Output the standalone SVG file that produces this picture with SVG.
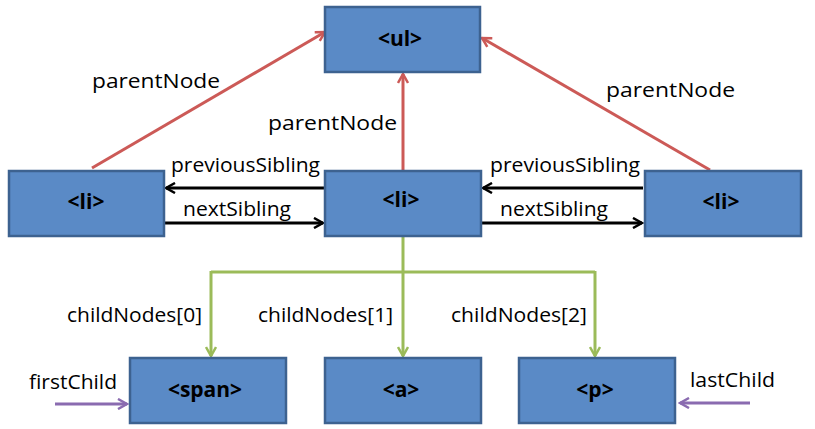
<svg xmlns="http://www.w3.org/2000/svg" width="815" height="429" viewBox="0 0 815 429">
<style>
.node rect{fill:#5A8AC6;stroke:#3D6290;stroke-width:2.5}
.node text{font-family:"Open Sans","Liberation Sans",sans-serif;font-weight:bold;font-size:21px;fill:#000;text-anchor:middle}
.lbl{font-family:"Open Sans","Liberation Sans",sans-serif;font-size:19.5px;fill:#000}
.red{stroke:#CC5A57;stroke-width:3;fill:none}
.blk{stroke:#000;stroke-width:3;fill:none}
.grn{stroke:#9BBB59;stroke-width:3;fill:none}
.pur{stroke:#8A6BB0;stroke-width:3;fill:none}
</style>
<defs>
<marker id="ar" viewBox="0 0 12 12" refX="10" refY="6" markerWidth="12" markerHeight="12" markerUnits="userSpaceOnUse" orient="auto"><path d="M1,1 L10,6 L1,11" fill="none" stroke="#CC5A57" stroke-width="2.5"/></marker>
<marker id="ab" viewBox="0 0 12 12" refX="10" refY="6" markerWidth="12" markerHeight="12" markerUnits="userSpaceOnUse" orient="auto"><path d="M1,1 L10,6 L1,11" fill="none" stroke="#000" stroke-width="2.5"/></marker>
<marker id="ag" viewBox="0 0 12 12" refX="10" refY="6" markerWidth="12" markerHeight="12" markerUnits="userSpaceOnUse" orient="auto"><path d="M1,1 L10,6 L1,11" fill="none" stroke="#9BBB59" stroke-width="2.5"/></marker>
<marker id="ap" viewBox="0 0 12 12" refX="10" refY="6" markerWidth="12" markerHeight="12" markerUnits="userSpaceOnUse" orient="auto"><path d="M1,1 L10,6 L1,11" fill="none" stroke="#8A6BB0" stroke-width="2.5"/></marker>
</defs>
<g id="connectors">
<line class="red" x1="92" y1="168" x2="325" y2="32" marker-end="url(#ar)"/>
<line class="red" x1="403" y1="170" x2="403" y2="74" marker-end="url(#ar)"/>
<line class="red" x1="710" y1="170" x2="482" y2="38" marker-end="url(#ar)"/>
<line class="blk" x1="325" y1="188" x2="166" y2="188" marker-end="url(#ab)"/>
<line class="blk" x1="165" y1="223" x2="323" y2="223" marker-end="url(#ab)"/>
<line class="blk" x1="643" y1="188" x2="483" y2="188" marker-end="url(#ab)"/>
<line class="blk" x1="482" y1="223" x2="642" y2="223" marker-end="url(#ab)"/>
<polyline class="grn" points="403,236 403,272"/>
<polyline class="grn" points="211,272 595,272"/>
<line class="grn" x1="211" y1="271" x2="211" y2="356" marker-end="url(#ag)"/>
<line class="grn" x1="403" y1="271" x2="403" y2="356" marker-end="url(#ag)"/>
<line class="grn" x1="595" y1="271" x2="595" y2="356" marker-end="url(#ag)"/>
<line class="pur" x1="55" y1="404" x2="127" y2="404" marker-end="url(#ap)"/>
<line class="pur" x1="750" y1="403" x2="680" y2="403" marker-end="url(#ap)"/>
</g>
<g id="labels">
<text class="lbl" x="92" y="88" textLength="128" lengthAdjust="spacingAndGlyphs">parentNode</text>
<text class="lbl" x="268" y="130" textLength="129" lengthAdjust="spacingAndGlyphs">parentNode</text>
<text class="lbl" x="606" y="97" textLength="129" lengthAdjust="spacingAndGlyphs">parentNode</text>
<text class="lbl" x="171" y="172" textLength="149" lengthAdjust="spacingAndGlyphs">previousSibling</text>
<text class="lbl" x="183" y="216" textLength="108" lengthAdjust="spacingAndGlyphs">nextSibling</text>
<text class="lbl" x="490" y="172" textLength="150" lengthAdjust="spacingAndGlyphs">previousSibling</text>
<text class="lbl" x="500" y="216" textLength="108" lengthAdjust="spacingAndGlyphs">nextSibling</text>
<text class="lbl" x="67" y="322" textLength="135" lengthAdjust="spacingAndGlyphs">childNodes[0]</text>
<text class="lbl" x="258" y="322" textLength="135" lengthAdjust="spacingAndGlyphs">childNodes[1]</text>
<text class="lbl" x="451" y="322" textLength="136" lengthAdjust="spacingAndGlyphs">childNodes[2]</text>
<text class="lbl" x="29" y="389" textLength="88" lengthAdjust="spacingAndGlyphs">firstChild</text>
<text class="lbl" x="690" y="387" textLength="85" lengthAdjust="spacingAndGlyphs">lastChild</text>
</g>
<g id="ul" class="node"><rect x="325" y="7" width="155" height="65"/><text x="400" y="46">&lt;ul&gt;</text></g>
<g id="li1" class="node"><rect x="9" y="171" width="155" height="65"/><text x="86" y="209">&lt;li&gt;</text></g>
<g id="li2" class="node"><rect x="325" y="171" width="156" height="65"/><text x="401" y="207">&lt;li&gt;</text></g>
<g id="li3" class="node"><rect x="645" y="171" width="156" height="65"/><text x="721" y="209">&lt;li&gt;</text></g>
<g id="span" class="node"><rect x="130" y="358" width="156" height="65"/><text x="205" y="397">&lt;span&gt;</text></g>
<g id="a" class="node"><rect x="325" y="358" width="156" height="65"/><text x="401" y="397">&lt;a&gt;</text></g>
<g id="p" class="node"><rect x="519" y="358" width="156" height="65"/><text x="595" y="397">&lt;p&gt;</text></g>
</svg>
